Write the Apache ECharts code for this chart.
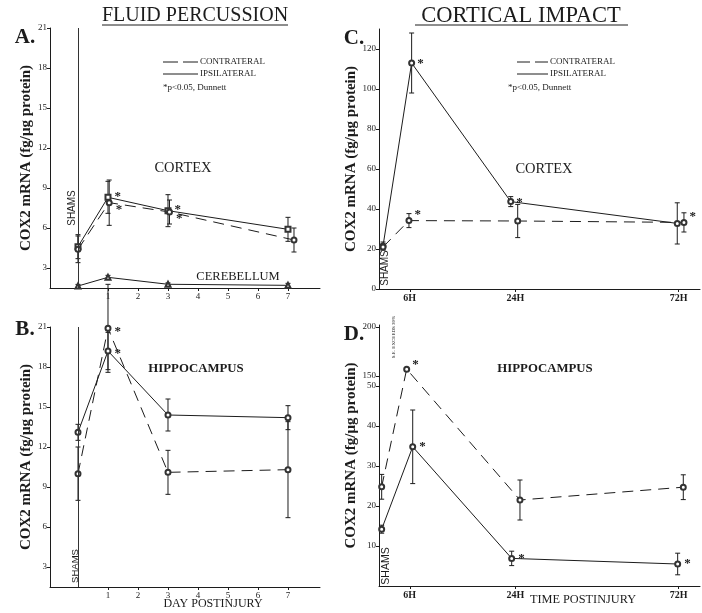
<!DOCTYPE html>
<html><head><meta charset="utf-8">
<script src="https://cdn.jsdelivr.net/npm/echarts@6/dist/echarts.min.js"></script>
<style>html,body{margin:0;padding:0;background:#fff}#c{width:702px;height:613px}</style>
</head><body><div id="c"></div>
<script>
// ---------- DATA ----------
// Fluid percussion (days postinjury; 0 = shams)
const dayPos = [0, 1, 3, 7];
const dayTicks = [1, 2, 3, 4, 5, 6, 7];
const fpYTicks = [3, 6, 9, 12, 15, 18, 21];

// A. cortex + cerebellum
const aIpsi = [4.6, 8.3, 7.3, 5.9];
const aIpsiErr = [0.9, 1.2, 1.2, 0.9];
const aContraPos = [0, 1.04, 3.05, 7.2];
const aContra = [4.4, 7.9, 7.2, 5.1];
const aContraErr = [1.0, 1.7, 0.9, 0.9];
const aCereb = [1.65, 2.3, 1.78, 1.7];
const aCerebErr = [0.12, 0.15, 0.1, 0.15];
const aIpsiSig = [0, 1, 1, 0];
const aContraSig = [0, 1, 1, 0];

// B. hippocampus
const bIpsi = [13.1, 19.2, 14.4, 14.2];
const bIpsiErr = [0.6, 1.4, 1.2, 0.9];
const bContra = [10.0, 20.9, 10.1, 10.3];
const bContraErr = [2.0, 3.3, 1.65, 3.6];
const bIpsiSig = [0, 1, 0, 0];
const bContraSig = [0, 1, 0, 0];

// Cortical impact (hours postinjury, positions on the drawn time axis)
const timeLabels = ['6H', '24H', '72H'];
const timeTickPos = [2.3, 10.2, 22.4];

// C. cortex
const cYTicks = [0, 20, 40, 60, 80, 100, 120];
const cIpsiPos = [0.3, 2.44, 9.85, 22.3];
const cIpsi = [21.5, 113, 43.7, 32.8];
const cIpsiErr = [2, 15, 2.5, 10.3];
const cContraPos = [0.3, 2.24, 10.37, 22.8];
const cContra = [21, 34.2, 34, 33.3];
const cContraErr = [1.5, 3.5, 8.3, 4.8];
const cIpsiSig = [0, 1, 1, 0];
const cContraSig = [0, 1, 0, 1];

// D. hippocampus (broken y axis 50 -> 150)
const dYTicksLow = [10, 20, 30, 40, 50];
const dYTicksHigh = [150, 200];
const dIpsiPos = [0.2, 2.52, 9.92, 22.33];
const dIpsi = [14.2, 34.8, 6.9, 5.5];
const dIpsiErr = [1, 9.2, 1.8, 2.7];
const dContraPos = [0.2, 2.07, 10.54, 22.75];
const dContra = [24.8, 157, 21.5, 24.7];
const dContraErr = [3.1, null, 5, 3.1];
const dIpsiSig = [0, 1, 1, 1];
const dContraSig = [0, 1, 0, 0];

// ---------- HELPERS ----------
const INK = '#1c1c1c';
const SERIF = '"Liberation Serif","DejaVu Serif",serif';
const SANS = '"Liberation Sans","DejaVu Sans",sans-serif';

// broken-axis mapping for panel D
const D_LOW_TOP = 50, D_HIGH_BOTTOM = 150, D_HIGH_BASE = 52.5, D_HIGH_SCALE = 0.245;
function dMap(v) { return v <= D_LOW_TOP ? v : D_HIGH_BASE + (v - D_HIGH_BOTTOM) * D_HIGH_SCALE; }
function dUnmap(v) { return v <= D_LOW_TOP + 0.01 ? v : Math.round(D_HIGH_BOTTOM + (v - D_HIGH_BASE) / D_HIGH_SCALE); }

function pts(xs, ys, sig, lab, map) {
  map = map || (v => v);
  return xs.map((x, i) => {
    const it = { value: [x, map(ys[i])] };
    if (sig && sig[i]) it.label = Object.assign({ show: true, formatter: '*' }, lab);
    return it;
  });
}
function errs(xs, ys, es, map) {
  map = map || (v => v);
  const out = [];
  xs.forEach((x, i) => { if (es[i] != null) out.push([x, map(ys[i] - es[i]), map(ys[i] + es[i])]); });
  return out;
}
function errRender(params, api) {
  const x = api.value(0), lo = api.value(1), hi = api.value(2);
  const a = api.coord([x, hi]), b = api.coord([x, lo]);
  const w = 2.5, st = { stroke: INK, lineWidth: 1 };
  return { type: 'group', children: [
    { type: 'line', shape: { x1: a[0], y1: a[1], x2: b[0], y2: b[1] }, style: st },
    { type: 'line', shape: { x1: a[0] - w, y1: a[1], x2: a[0] + w, y2: a[1] }, style: st },
    { type: 'line', shape: { x1: b[0] - w, y1: b[1], x2: b[0] + w, y2: b[1] }, style: st }
  ]};
}
function starLab(dx, dy) {
  return { position: 'right', distance: dx, offset: [0, dy], fontSize: 13, fontWeight: 'bold', fontFamily: SERIF, color: INK };
}
function lineSeries(idx, data, dashed, symbol, extra) {
  return Object.assign({
    type: 'line', xAxisIndex: idx, yAxisIndex: idx, data: data,
    symbol: symbol || 'emptyCircle', symbolSize: 5, showSymbol: true, showAllSymbol: true,
    lineStyle: { color: INK, width: 1, type: dashed ? [11, 7] : 'solid' },
    itemStyle: { color: '#333', borderWidth: 0.9 },
    label: { show: false }, z: 3, animation: false
  }, extra || {});
}
function errSeries(idx, data) {
  return { type: 'custom', xAxisIndex: idx, yAxisIndex: idx, data: data, renderItem: errRender,
    encode: { x: 0, y: [1, 2] }, clip: false, z: 2, animation: false };
}
const axisLineStyle = { show: true, onZero: false, lineStyle: { color: INK, width: 1 } };
function yAxisCfg(idx, min, max, ticks, fmt) {
  return {
    type: 'value', gridIndex: idx, min: min, max: max,
    axisLine: axisLineStyle, splitLine: { show: false },
    axisTick: { show: true, length: 3, customValues: ticks, lineStyle: { color: INK } },
    axisLabel: { customValues: ticks, fontSize: 9, fontFamily: SERIF, color: INK, margin: 3, formatter: fmt },
    name: 'COX2 mRNA (fg/\u03bcg protein)', nameLocation: 'middle', nameRotate: 90, nameGap: 15,
    nameTextStyle: { fontSize: 15, fontWeight: 'bold', fontFamily: SERIF, color: INK }
  };
}
function xAxisCfg(idx, min, max, ticks, fmt, bold) {
  return {
    type: 'value', gridIndex: idx, min: min, max: max,
    axisLine: axisLineStyle, splitLine: { show: false },
    axisTick: { show: true, length: 3, customValues: ticks, lineStyle: { color: INK } },
    axisLabel: { customValues: ticks, fontSize: bold ? 10 : 9, fontWeight: bold ? 'bold' : 'normal',
      fontFamily: SERIF, color: INK, margin: 4, formatter: fmt }
  };
}
const timeFmt = v => { const i = timeTickPos.findIndex(t => Math.abs(t - v) < 1e-6); return i >= 0 ? timeLabels[i] : ''; };

const vLine = { symbol: 'none', silent: true, label: { show: false },
  lineStyle: { color: '#333', type: 'solid', width: 1 }, data: [{ xAxis: 0 }] };

// ---------- GRAPHIC TEXT ----------
function txt(x, y, s, size, opts) {
  opts = opts || {};
  return { type: 'text', x: x, y: y, rotation: opts.rot || 0, silent: true,
    style: { text: s, x: 0, y: 0, fill: INK, align: opts.align || 'center', verticalAlign: 'middle',
      font: (opts.weight || 'normal') + ' ' + size + 'px ' + (opts.family || SERIF) } };
}
function ln(x1, y1, x2, y2, dash) {
  return { type: 'line', silent: true, shape: { x1, y1, x2, y2 },
    style: { stroke: INK, lineWidth: 1, lineDash: dash || null } };
}
const R90 = Math.PI / 2;
const graphic = [
  txt(195, 16, 'FLUID PERCUSSION', 20), ln(102, 25, 288, 25),
  txt(521, 16, 'CORTICAL IMPACT', 22.5), ln(415, 25, 628, 25),
  txt(25, 38, 'A.', 21, { weight: 'bold' }),
  txt(25, 330, 'B.', 21, { weight: 'bold' }),
  txt(354, 39, 'C.', 21, { weight: 'bold' }),
  txt(354, 335, 'D.', 21, { weight: 'bold' }),
  // legends
  ln(163, 62, 198, 62, [15, 5]), txt(200, 62, 'CONTRATERAL', 9, { align: 'left' }),
  ln(163, 74, 198, 74), txt(200, 74, 'IPSILATERAL', 9, { align: 'left' }),
  txt(163, 88, '*p<0.05, Dunnett', 9, { align: 'left' }),
  ln(517, 62, 548, 62, [13, 5]), txt(550, 62, 'CONTRATERAL', 9, { align: 'left' }),
  ln(517, 74, 548, 74), txt(550, 74, 'IPSILATERAL', 9, { align: 'left' }),
  txt(508, 88, '*p<0.05, Dunnett', 9, { align: 'left' }),
  // region labels
  txt(183, 168, 'CORTEX', 14.5),
  txt(238, 277, 'CEREBELLUM', 12.5),
  txt(544, 169, 'CORTEX', 14.5),
  txt(196, 369, 'HIPPOCAMPUS', 12.8, { weight: 'bold' }),
  txt(545, 369, 'HIPPOCAMPUS', 12.8, { weight: 'bold' }),
  // shams / notes
  txt(72, 208, 'SHAMS', 10, { rot: R90, family: SANS }),
  txt(75, 566, 'SHAMS', 9.5, { rot: R90, family: SANS }),
  txt(385, 268, 'SHAMS', 10, { rot: R90, family: SANS }),
  txt(386, 566, 'SHAMS', 10.5, { rot: R90, family: SANS }),
  txt(394, 337, 'S.E. EXCEEDS 30%', 5, { rot: R90 }),
  // axis titles
  txt(213, 604, 'DAY POSTINJURY', 12),
  txt(583, 600, 'TIME POSTINJURY', 12.3)
];

// ---------- OPTION ----------
const option = {
  backgroundColor: '#fff',
  animation: false,
  grid: [
    { left: 50, top: 28, width: 270, height: 260 },
    { left: 50, top: 327, width: 270, height: 260 },
    { left: 379, top: 29, width: 321, height: 260 },
    { left: 379, top: 325, width: 321, height: 261 }
  ],
  xAxis: [
    xAxisCfg(0, -0.933, 8.067, dayTicks),
    xAxisCfg(1, -0.933, 8.067, dayTicks),
    xAxisCfg(2, 0, 24, timeTickPos, timeFmt, true),
    xAxisCfg(3, 0, 24, timeTickPos, timeFmt, true)
  ],
  yAxis: [
    yAxisCfg(0, 1.5, 21, fpYTicks),
    yAxisCfg(1, 1.5, 21, fpYTicks),
    yAxisCfg(2, 0, 130, cYTicks),
    yAxisCfg(3, 0, 65.25, dYTicksLow.concat(dYTicksHigh).map(dMap), v => String(dUnmap(v)))
  ],
  graphic: graphic,
  series: [
    // A
    lineSeries(0, pts(dayPos, aIpsi, aIpsiSig, starLab(3, -1)), false, 'emptyRect', { markLine: vLine }),
    lineSeries(0, pts(aContraPos, aContra, aContraSig, starLab(3, 7)), true, 'emptyCircle'),
    lineSeries(0, pts(dayPos, aCereb), false, 'emptyTriangle'),
    errSeries(0, errs(dayPos, aIpsi, aIpsiErr)),
    errSeries(0, errs(aContraPos, aContra, aContraErr)),
    errSeries(0, errs(dayPos, aCereb, aCerebErr)),
    // B
    lineSeries(1, pts(dayPos, bIpsi, bIpsiSig, starLab(3, 3)), false, 'emptyCircle', { markLine: vLine }),
    lineSeries(1, pts(dayPos, bContra, bContraSig, starLab(3, 3)), true, 'emptyCircle'),
    errSeries(1, errs(dayPos, bIpsi, bIpsiErr)),
    errSeries(1, errs(dayPos, bContra, bContraErr)),
    // C
    lineSeries(2, pts(cIpsiPos, cIpsi, cIpsiSig, starLab(2, 1)), false, 'emptyCircle'),
    lineSeries(2, pts(cContraPos, cContra, cContraSig, starLab(2, -6)), true, 'emptyCircle'),
    errSeries(2, errs(cIpsiPos, cIpsi, cIpsiErr)),
    errSeries(2, errs(cContraPos, cContra, cContraErr)),
    // D
    lineSeries(3, pts(dIpsiPos, dIpsi, dIpsiSig, starLab(3, 0), dMap), false, 'emptyCircle'),
    lineSeries(3, pts(dContraPos, dContra, dContraSig, starLab(2, -4), dMap), true, 'emptyCircle'),
    errSeries(3, errs(dIpsiPos, dIpsi, dIpsiErr, dMap)),
    errSeries(3, errs(dContraPos, dContra, dContraErr, dMap))
  ]
};
const chart = echarts.init(document.getElementById('c'), null, { renderer: 'canvas' });
chart.setOption(option);
</script></body></html>
